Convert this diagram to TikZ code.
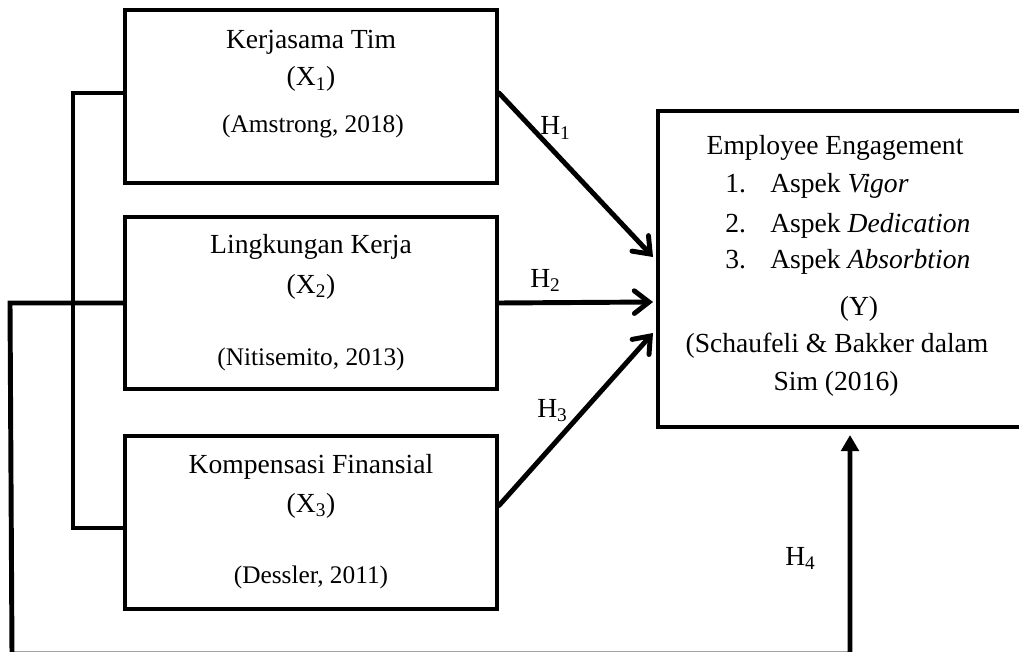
\documentclass[tikz,border=0pt]{standalone}
\usepackage{fontspec}
\setmainfont{Liberation Serif}
\usetikzlibrary{arrows.meta,calc}
\begin{document}
\begin{tikzpicture}[x=0.75pt,y=-0.75pt,
  box/.style={draw,line width=3pt,minimum width=279pt,inner sep=0pt},
  txt/.style={inner sep=0pt,anchor=base,font=\fontsize{20.7}{25}\selectfont},
  cite/.style={inner sep=0pt,anchor=base,font=\fontsize{19}{23}\selectfont},
  lbl/.style={inner sep=0pt,anchor=base west,font=\fontsize{20.7}{25}\selectfont},
  conn/.style={line width=3.7pt,line cap=round,line join=round},
  barb/.style={conn,-{Straight Barb[length=11pt,width=17pt,line cap=round]}},
  solidtip/.style={conn,line cap=butt,line join=miter,-{Triangle[length=12pt,width=13pt]}}]
\useasboundingbox (0,0) rectangle (1019,652);
\clip (0,0) rectangle (1019,652);
% boxes
\node[box,minimum height=129.75pt] (b1) at (311,96.5) {};
\node[box,minimum height=129pt] (b2) at (311,303) {};
\node[box,minimum height=129.75pt] (b3) at (311,522.5) {};
\node[box,minimum height=237pt] (y) at (844,269) {};
% texts box 1
\node[txt] (t1a) at (311,48.5) {Kerjasama Tim};
\node[txt] (t1b) at (311,86) {(X\textsubscript{1})};
\node[cite] (t1c) at (313,133) {(Amstrong, 2018)};
% box 2
\node[txt] (t2a) at (311,253) {Lingkungan Kerja};
\node[txt] (t2b) at (311,293) {(X\textsubscript{2})};
\node[cite] (t2c) at (311,365) {(Nitisemito, 2013)};
% box 3
\node[txt] (t3a) at (311,473) {Kompensasi Finansial};
\node[txt] (t3b) at (311,512) {(X\textsubscript{3})};
\node[cite] (t3c) at (311,583) {(Dessler, 2011)};
% box Y
\node[txt] (ya) at (835,155) {Employee Engagement};
\node[txt,anchor=base west] (yn1) at (725,193) {1.};
\node[txt,anchor=base west] (yi1) at (770,193) {Aspek \textit{Vigor}};
\node[txt,anchor=base west] (yn2) at (725,232) {2.};
\node[txt,anchor=base west] (yi2) at (770,232) {Aspek \textit{Dedication}};
\node[txt,anchor=base west] (yn3) at (725,268) {3.};
\node[txt,anchor=base west] (yi3) at (770,268) {Aspek \textit{Absorbtion}};
\node[txt] (yb) at (859,315) {(Y)};
\node[txt] (yc) at (837,352) {(Schaufeli \& Bakker dalam};
\node[txt] (yd) at (836,390) {Sim (2016)};
% hypothesis labels
\node[lbl] (h1) at (540,135) {H\textsubscript{1}};
\node[lbl] (h2) at (530,287) {H\textsubscript{2}};
\node[lbl] (h3) at (537,417) {H\textsubscript{3}};
\node[lbl] (h4) at (785,565) {H\textsubscript{4}};
% connectors
\coordinate (e1) at ($(y.west)+(-3,-12)$);
\coordinate (e2) at ($(y.west)+(-3,33)$);
\coordinate (e3) at ($(y.west)+(-3,64)$);
\coordinate (s1) at ($(b1.east)+(0,-3.5)$);
\coordinate (s3) at ($(b3.east)+(0,-17)$);
\draw[barb] (s1) -- (e1);
\draw[barb] (b2.east) -- (e2);
\draw[barb] (s3) -- (e3);
% left bracket
\coordinate (k1) at ($(b1.west)+(0,-3.5)$);
\coordinate (k3) at ($(b3.west)+(0,5.5)$);
\draw[conn,line cap=butt,line join=miter] (k1) -- ++(-50,0) |- (k3);
% outer path to Y
\coordinate (o1) at ($(b2.west)+(-113,0)$);
\coordinate (o2) at (12,654);
\coordinate (o3) at (850,654);
\coordinate (o4) at ($(y.south)+(6,6)$);
\draw[solidtip] (b2.west) -- (o1) -- (o2) -- (o3) -- (o4);
\end{tikzpicture}
\end{document}
